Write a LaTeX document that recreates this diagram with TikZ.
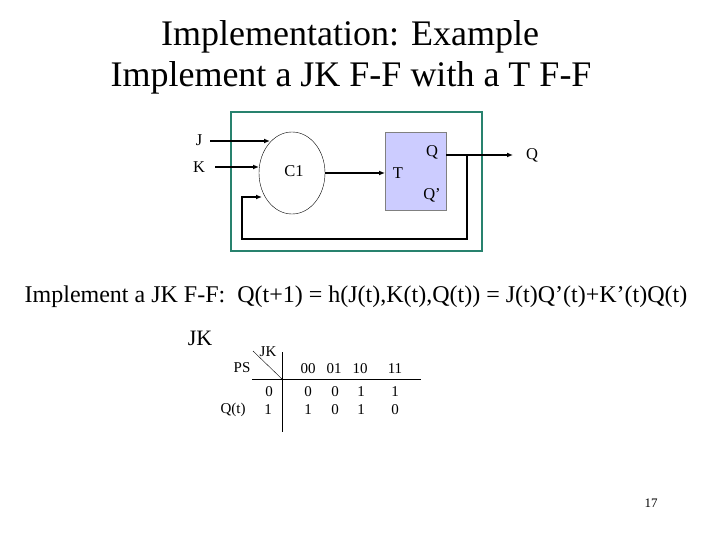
\documentclass[tikz,border=0pt]{standalone}
\usepackage{fontspec}
\setmainfont{Liberation Serif}
\usetikzlibrary{arrows.meta,shapes.geometric}
\definecolor{teal1}{RGB}{40,130,110}
\definecolor{lav}{RGB}{204,204,255}
\begin{document}
\begin{tikzpicture}[x=1pt,y=-1pt,
  wire/.style={line width=1.3pt},
  arr/.style={wire,-{Latex[length=6pt,width=5pt]}},
  lab/.style={inner sep=0pt,font=\fontsize{16.5}{16.5}\selectfont},
  tab/.style={inner sep=0pt,font=\fontsize{15}{15}\selectfont}]
\useasboundingbox (0,0) rectangle (720,540);
\node (t1) at (350,37) {\fontsize{36}{36}\selectfont Implementation: Example};
\node (t2) at (351,78) {\fontsize{36}{36}\selectfont Implement a JK F-F with a T F-F};
\draw[teal1,line width=2.5pt] (231,112) rectangle (482,251);
\node[draw,thin,ellipse,minimum width=66pt,minimum height=82pt,inner sep=0pt] (c1) at (292,173) {};
\node[lab] (c1l) at (294,171) {C1};
\node[draw=gray,fill=lav,minimum width=61pt,minimum height=78pt,inner sep=0pt] (tff) at (415.5,171) {};
\node[lab] (tl) at (398,173) {T};
\node[lab] (ql) at (432,152) {Q};
\node[lab] (qpl) at (432,195) {Q’};
\node[lab] (jl) at (199,140) {J};
\node[lab] (kl) at (199,167) {K};
\node[lab] (qo) at (532,155) {Q};
\coordinate (js) at (210,141); \coordinate (je) at (270,141);
\coordinate (ks) at (215,167); \coordinate (ke) at (259,167);
\coordinate (qs) at (446,155); \coordinate (qe) at (513,155);
\coordinate (br) at (467,155); \coordinate (fb) at (262,197);
\draw[arr] (js) -- (je);
\draw[arr] (ks) -- (ke);
\draw[arr] (c1.east) -- (385,173);
\draw[arr] (qs) -- (qe);
\draw[arr] (br) -- (467,239) -- (242,239) -- (242,197) -- (fb);
\node[inner sep=0pt] (eq) at (356,297) {\fontsize{24}{24}\selectfont Implement a JK F-F:\ \ Q(t+1) = h(J(t),K(t),Q(t)) = J(t)Q’(t)+K’(t)Q(t)};
\node[inner sep=0pt] (jkb) at (200,338) {\fontsize{22}{22}\selectfont JK};
\node[tab] (jks) at (268,352) {JK};
\node[tab] (ps) at (242,368) {PS};
\draw (253,351) -- (282,379);
\draw (282,352) -- (282,432);
\draw (252,379) -- (421,379);
\foreach \x/\t [count=\i] in {308/00,334/01,360/10,395/11} \node[tab] (h\i) at (\x,369) {\t};
\node[tab] (r0) at (269,392) {0};
\node[tab] (qt) at (233,410) {Q(t)};
\node[tab] (r1) at (268,410) {1};
\foreach \x/\a/\b [count=\i] in {308/0/1,335/0/0,361/1/1,395/1/0}{
  \node[tab] (a\i) at (\x,392) {\a};
  \node[tab] (b\i) at (\x,410) {\b};}
\node[inner sep=0pt] (pg) at (651,503) {\fontsize{13}{13}\selectfont 17};
\end{tikzpicture}
\end{document}
